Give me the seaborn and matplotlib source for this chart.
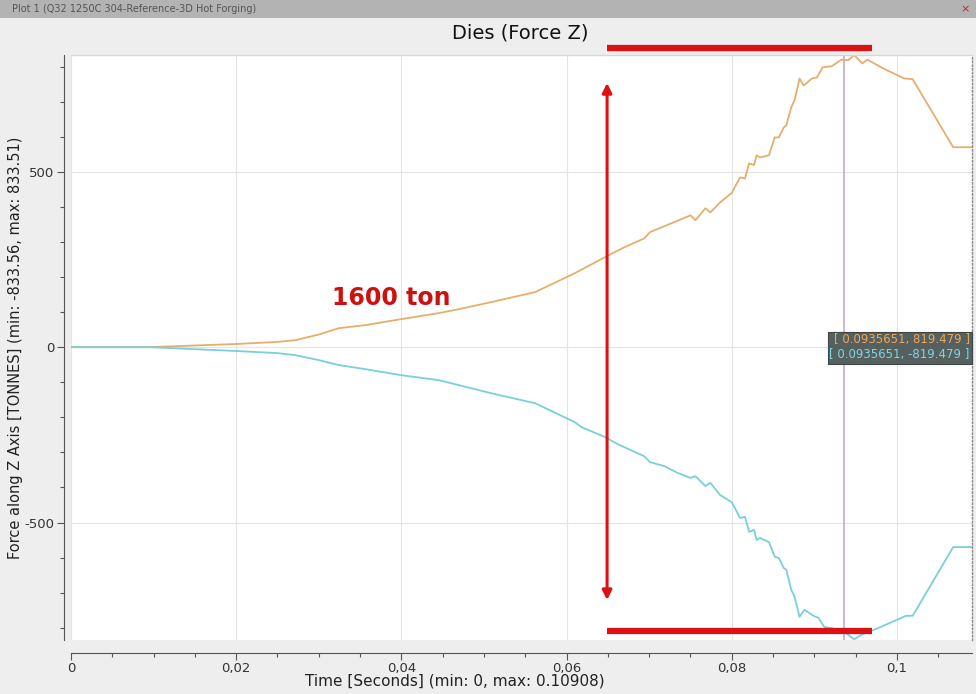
import numpy as np
import pandas as pd
import matplotlib
matplotlib.use("Agg")
import matplotlib.pyplot as plt
from matplotlib.patches import Rectangle, FancyArrowPatch
from matplotlib.ticker import MultipleLocator
import seaborn as sns

# ---------------- data ----------------
t_upper = [0.0, 0.0095, 0.0200, 0.0250, 0.0272, 0.0300, 0.0324, 0.0357, 0.0400, 0.0445,
           0.0469, 0.0508, 0.0562, 0.0610, 0.0646, 0.0670, 0.0694, 0.0701, 0.0734, 0.0750,
           0.0756, 0.0768, 0.0774, 0.0786, 0.0800, 0.0810, 0.0816, 0.0821, 0.0827, 0.0830,
           0.0834, 0.0845, 0.0852, 0.0857, 0.0863, 0.0866, 0.0872, 0.0876, 0.0882, 0.0887,
           0.0897, 0.0903, 0.0910, 0.0921, 0.0933, 0.0941, 0.0948, 0.0958, 0.0964, 0.0983,
           0.1009, 0.1019, 0.1068, 0.10908]
f_upper = [0, 0, 9, 15, 20, 36, 54, 63, 80, 97,
           108, 128, 157, 211, 256, 285, 310, 328, 360, 376,
           362, 396, 384, 413, 440, 484, 481, 524, 519, 547,
           541, 547, 598, 598, 627, 632, 684, 704, 766, 746,
           766, 769, 798, 801, 820, 818, 833, 809, 820, 795,
           766, 764, 570, 570]

t_lower = [0.0, 0.0095, 0.0200, 0.0250, 0.0272, 0.0300, 0.0324, 0.0357, 0.0400, 0.0445,
           0.0469, 0.0508, 0.0562, 0.0610, 0.0618, 0.0646, 0.0664, 0.0694, 0.0701, 0.0718,
           0.0734, 0.0750, 0.0756, 0.0768, 0.0774, 0.0786, 0.0800, 0.0810, 0.0816, 0.0821,
           0.0827, 0.0830, 0.0834, 0.0845, 0.0852, 0.0857, 0.0863, 0.0866, 0.0872, 0.0876,
           0.0882, 0.0888, 0.0899, 0.0905, 0.0912, 0.0921, 0.0933, 0.0941, 0.0948, 0.0957,
           0.0966, 0.0983, 0.1011, 0.1019, 0.1068, 0.10908]
f_lower = [0, 0, -11, -17, -23, -37, -51, -63, -80, -94,
           -108, -131, -160, -214, -228, -256, -279, -311, -328, -339,
           -358, -373, -368, -396, -387, -422, -442, -487, -484, -527,
           -521, -550, -544, -556, -598, -601, -630, -635, -692, -712,
           -769, -749, -766, -772, -798, -801, -810, -820, -833, -820,
           -812, -795, -766, -766, -570, -570]

cursor_t = 0.0935651
cursor_vals = [819.479, -819.479]

x_ticks = [0, 0.02, 0.04, 0.06, 0.08, 0.1]
x_tick_labels = ["0", "0,02", "0,04", "0,06", "0,08", "0,1"]
y_ticks = [-500, 0, 500]

# ---------------- styling ----------------
sns.set_style("white")
plt.rcParams["font.family"] = ["DejaVu Sans"]
plt.rcParams["axes.unicode_minus"] = False

ORANGE = "#e6ae6c"
CYAN = "#78d0da"
RED = "#dd1111"
BG = "#eeeeee"

df_u = pd.DataFrame({"t": t_upper, "f": f_upper})
df_l = pd.DataFrame({"t": t_lower, "f": f_lower})

fig = plt.figure(figsize=(9.76, 6.94), dpi=100)
fig.patch.set_facecolor(BG)
ax = fig.add_axes([71/976, 1 - 640/694, (972-71)/976, (640-55)/694])
ax.set_facecolor("white")

# window title bar
fig.add_artist(Rectangle((0, 1 - 18/694), 1, 18/694, transform=fig.transFigure,
                         facecolor="#b3b3b3", edgecolor="none", zorder=0))
fig.text(12/976, 1 - 9/694, "Plot 1 (Q32 1250C 304-Reference-3D Hot Forging)",
         fontsize=7, color="#555555", va="center", ha="left")
fig.text(1 - 6/976, 1 - 9/694, "×", fontsize=8, color="#cc2222", va="center", ha="right")

ax.grid(True, color="#e4e4e4", linewidth=0.8)
ax.set_axisbelow(True)

sns.lineplot(data=df_u, x="t", y="f", ax=ax, color=ORANGE, linewidth=1.3,
             estimator=None, sort=False)
sns.lineplot(data=df_l, x="t", y="f", ax=ax, color=CYAN, linewidth=1.3,
             estimator=None, sort=False)

ax.axvline(cursor_t, color="#c9a6d2", linewidth=1.2, zorder=1)

ax.set_xlim(0, 0.10908)
ax.set_ylim(-835, 833)
ax.set_xticks(x_ticks)
ax.set_xticklabels(x_tick_labels)
ax.set_yticks(y_ticks)
ax.xaxis.set_minor_locator(MultipleLocator(0.005))
ax.yaxis.set_minor_locator(MultipleLocator(100))
ax.tick_params(axis="both", which="both", bottom=True, left=True, top=False, right=False)
ax.tick_params(axis="both", which="major", length=5, width=0.8, color="#555555",
               labelsize=9.5, labelcolor="#333333", pad=2)
ax.tick_params(axis="both", which="minor", length=3, width=0.8, color="#555555")

for s in ["top", "right"]:
    ax.spines[s].set_color("#d8d8d8")
    ax.spines[s].set_linewidth(1.0)
ax.spines["right"].set_linestyle(":")
ax.spines["right"].set_color("#888888")
ax.spines["left"].set_position(("outward", 5))
ax.spines["bottom"].set_position(("outward", 9))
ax.spines["left"].set_color("#555555")
ax.spines["bottom"].set_color("#555555")

ax.set_xlabel("Time [Seconds] (min: 0, max: 0.10908)", fontsize=11, color="#222222")
ax.set_ylabel("Force along Z Axis [TONNES] (min: -833.56, max: 833.51)", fontsize=10.5,
              color="#222222")
ax.xaxis.set_label_coords((455-71)/901, -0.058)
ax.yaxis.set_label_coords(-0.053, 0.5)
ax.set_title("Dies (Force Z)", fontsize=14, color="#111111", pad=12, x=(520-71)/901)

# red annotations
x0, x1 = 0.0649, 0.0970
ax.plot([x0, x1], [852, 852], color=RED, linewidth=4.5, clip_on=False, solid_capstyle="butt", zorder=5)
ax.plot([x0, x1], [-809, -809], color=RED, linewidth=4.5, clip_on=False, solid_capstyle="butt", zorder=5)
arr = FancyArrowPatch((x0, -729), (x0, 761), arrowstyle="<|-|>", mutation_scale=14,
                      color=RED, linewidth=2.2, zorder=5)
ax.add_patch(arr)
ax.text(0.0316, 140, "1600 ton", color="#cc1111", fontsize=17, fontweight="bold",
        ha="left", va="center")

# cursor tooltip
ax.add_patch(Rectangle((0.0916, -48), 0.10905 - 0.0916, 91, facecolor="#56605f",
                       edgecolor="#3f4646", linewidth=0.8, zorder=6, clip_on=False))
ax.text(0.1088, 22, f"[ {cursor_t}, {cursor_vals[0]} ]", color="#e8a860", fontsize=8.5,
        ha="right", va="center", zorder=7)
ax.text(0.1088, -22, f"[ {cursor_t}, {cursor_vals[1]} ]", color="#7fd6e0", fontsize=8.5,
        ha="right", va="center", zorder=7)

fig.savefig("out.png", dpi=100, facecolor=fig.get_facecolor())
